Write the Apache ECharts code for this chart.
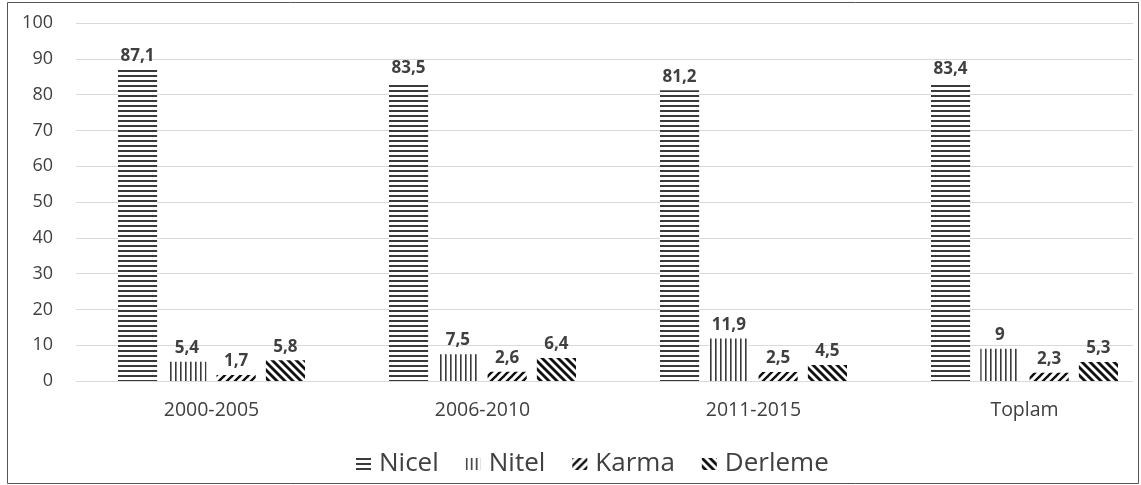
<!DOCTYPE html>
<html>
<head>
<meta charset="utf-8">
<script src="https://cdn.jsdelivr.net/npm/echarts@6/dist/echarts.min.js"></script>
<style>
html,body{margin:0;padding:0;background:#fff;overflow:hidden;}
#c{width:1180px;height:485px;}
</style>
</head>
<body>
<div id="c"></div>
<script>
var categories = ['2000-2005', '2006-2010', '2011-2015', 'Toplam'];
var nicel = [87.1, 83.5, 81.2, 83.4];
var nitel = [5.4, 7.5, 11.9, 9];
var karma = [1.7, 2.6, 2.5, 2.3];
var derleme = [5.8, 6.4, 4.5, 5.3];
var seriesNames = ['Nicel', 'Nitel', 'Karma', 'Derleme'];
var yMin = 0, yMax = 100, yStep = 10;

function makePattern(kind) {
  var c = document.createElement('canvas');
  var ctx;
  if (kind === 'h') {
    c.width = 8; c.height = 5;
    ctx = c.getContext('2d');
    ctx.fillStyle = '#fff'; ctx.fillRect(0, 0, 8, 5);
    ctx.fillStyle = '#3a3a3a'; ctx.fillRect(0, 0, 8, 2);
  } else if (kind === 'v') {
    c.width = 5; c.height = 8;
    ctx = c.getContext('2d');
    ctx.fillStyle = '#fff'; ctx.fillRect(0, 0, 5, 8);
    ctx.fillStyle = '#3a3a3a'; ctx.fillRect(0, 0, 1.6, 8);
  } else {
    var s = 8;
    c.width = s; c.height = s;
    ctx = c.getContext('2d');
    ctx.fillStyle = '#fff'; ctx.fillRect(0, 0, s, s);
    ctx.strokeStyle = '#111';
    ctx.lineWidth = kind === 'f' ? 2.4 : 2.8;
    ctx.lineCap = 'square';
    for (var k = -1; k <= 1; k++) {
      ctx.beginPath();
      if (kind === 'f') {
        ctx.moveTo(k * s, s); ctx.lineTo(k * s + s, 0);
      } else {
        ctx.moveTo(k * s, 0); ctx.lineTo(k * s + s, s);
      }
      ctx.stroke();
    }
  }
  return { image: c, repeat: 'repeat' };
}

var patterns = [makePattern('h'), makePattern('v'), makePattern('f'), makePattern('b')];
var values = [nicel, nitel, karma, derleme];

var chart = echarts.init(document.getElementById('c'), null, { renderer: 'canvas' });
var FONT = '"Open Sans", "Noto Sans", sans-serif';

var series = seriesNames.map(function (name, i) {
  return {
    name: name,
    type: 'bar',
    xAxisIndex: 0,
    yAxisIndex: 0,
    data: values[i],
    barGap: '26%',
    barCategoryGap: '31%',
    itemStyle: { color: patterns[i] },
    label: {
      show: true,
      position: 'top',
      distance: 5,
      fontFamily: FONT,
      fontWeight: 'bold',
      fontSize: 17,
      color: '#404040',
      formatter: function (p) { return String(p.value).replace('.', ','); }
    }
  };
});

chart.setOption({
  animation: false,
  backgroundColor: '#fff',
  textStyle: { fontFamily: FONT },
  graphic: [{
    type: 'rect',
    shape: { x: 7.5, y: 2.5, width: 1131, height: 481 },
    style: { fill: 'none', stroke: '#555', lineWidth: 1 },
    silent: true,
    z: 100
  }],
  legend: {
    data: seriesNames,
    left: 351,
    top: 446,
    icon: 'rect',
    itemWidth: 15,
    itemHeight: 12,
    itemGap: 27,
    textStyle: { fontFamily: FONT, fontSize: 26, color: '#404040', padding: [0, 0, 0, 3] }
  },
  grid: [
    { left: 76, width: 1084, top: 23, bottom: 104 },
    { left: 76, width: 1057, top: 23, bottom: 104 }
  ],
  xAxis: [
    {
      type: 'category',
      gridIndex: 0,
      data: categories,
      axisLine: { show: false },
      axisTick: { show: false },
      splitLine: { show: false },
      axisLabel: { fontFamily: FONT, fontSize: 19.5, color: '#404040', margin: 19 }
    },
    {
      type: 'value',
      gridIndex: 1,
      min: 0, max: 1,
      show: false
    }
  ],
  yAxis: [
    {
      type: 'value',
      gridIndex: 0,
      min: yMin, max: yMax, interval: yStep,
      show: false,
      splitLine: { show: false }
    },
    {
      type: 'value',
      gridIndex: 1,
      min: yMin, max: yMax, interval: yStep,
      axisLine: { show: false },
      axisTick: { show: false },
      splitLine: { show: true, lineStyle: { color: '#d9d9d9', width: 1 } },
      axisLabel: { fontFamily: FONT, fontSize: 18, color: '#404040', margin: 23 }
    }
  ],
  series: series
});
</script>
</body>
</html>
